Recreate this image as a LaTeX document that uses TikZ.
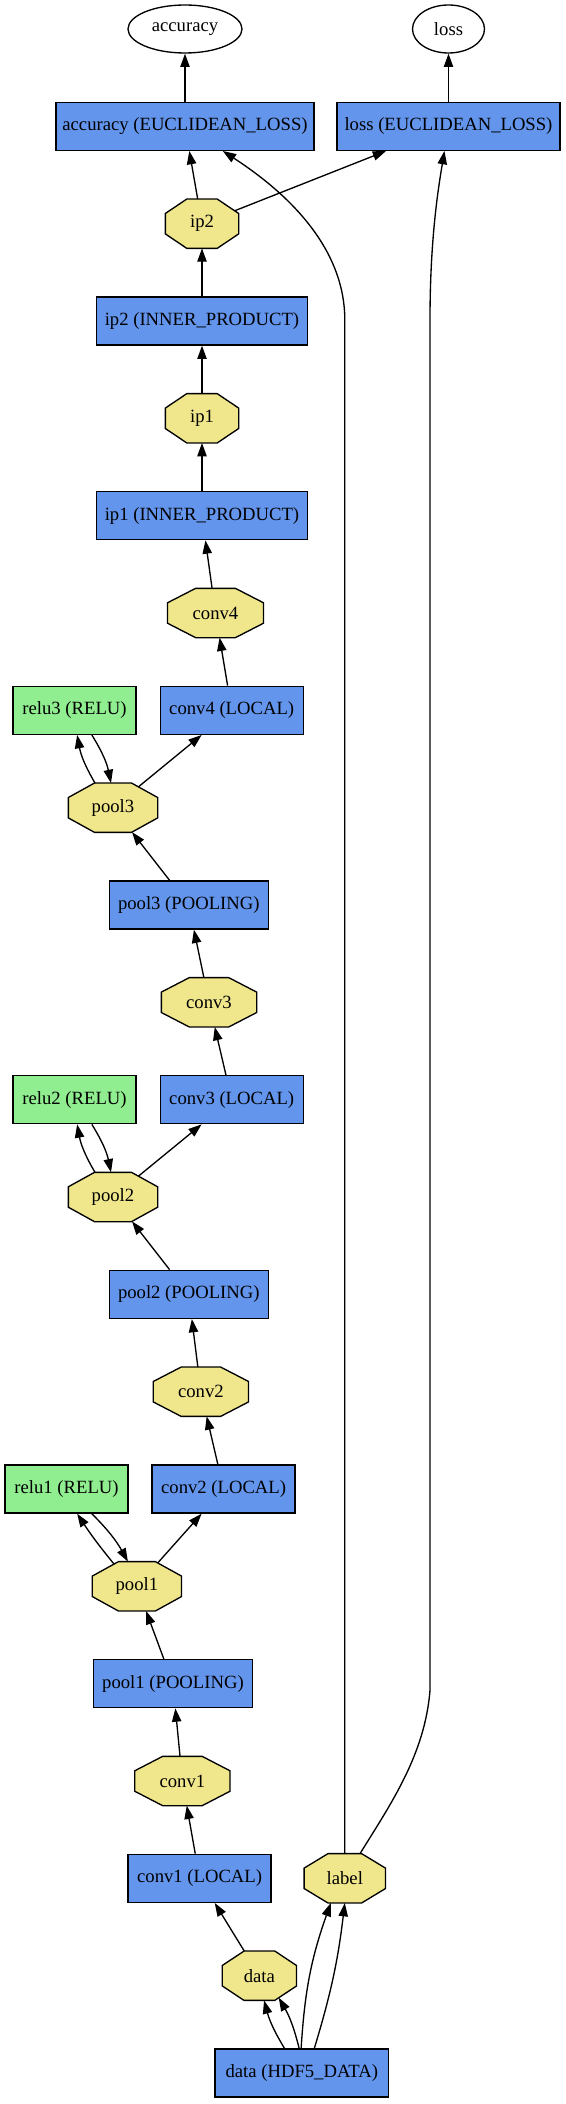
\documentclass[tikz,border=0pt]{standalone}
\usepackage{fontspec}
\setmainfont{Liberation Serif}
\usetikzlibrary{arrows.meta,shapes.geometric}

\definecolor{layerblue}{HTML}{6495ED}
\definecolor{relugreen}{HTML}{90EE90}
\definecolor{blobkhaki}{HTML}{F0E68C}

% stretched octagon, as graphviz draws it
\makeatletter
\pgfdeclareshape{octagonbox}{%
  \inheritsavedanchors[from=rectangle]%
  \inheritanchor[from=rectangle]{center}%
  \inheritanchor[from=rectangle]{north}%
  \inheritanchor[from=rectangle]{south}%
  \inheritanchor[from=rectangle]{east}%
  \inheritanchor[from=rectangle]{west}%
  \inheritanchor[from=rectangle]{north east}%
  \inheritanchor[from=rectangle]{north west}%
  \inheritanchor[from=rectangle]{south east}%
  \inheritanchor[from=rectangle]{south west}%
  \inheritanchor[from=rectangle]{base}%
  \inheritanchor[from=rectangle]{mid}%
  \anchorborder{%
    \edef\oct@dx{\pgf@sys@tonumber\pgf@x}%
    \edef\oct@dy{\pgf@sys@tonumber\pgf@y}%
    \northeast \edef\oct@ex{\pgf@sys@tonumber\pgf@x}\edef\oct@ey{\pgf@sys@tonumber\pgf@y}%
    \southwest \edef\oct@wx{\pgf@sys@tonumber\pgf@x}\edef\oct@wy{\pgf@sys@tonumber\pgf@y}%
    \pgfmathsetmacro\oct@u{abs(\oct@dx)/((\oct@ex-\oct@wx)/2)}%
    \pgfmathsetmacro\oct@v{abs(\oct@dy)/((\oct@ey-\oct@wy)/2)}%
    \pgfmathsetmacro\oct@t{1/max(\oct@u,\oct@v,(\oct@u+\oct@v)/1.41421)}%
    \pgfpoint{(\oct@ex+\oct@wx)/2+\oct@t*\oct@dx}{(\oct@ey+\oct@wy)/2+\oct@t*\oct@dy}%
  }%
  \backgroundpath{%
    \southwest \pgf@xa=\pgf@x \pgf@ya=\pgf@y
    \northeast \pgf@xb=\pgf@x \pgf@yb=\pgf@y
    \pgf@xc=\pgf@xb \advance\pgf@xc by-\pgf@xa
    \pgf@yc=\pgf@yb \advance\pgf@yc by-\pgf@ya
    \pgfutil@tempdima=\pgf@xa \advance\pgfutil@tempdima by.293\pgf@xc
    \pgfutil@tempdimb=\pgf@xb \advance\pgfutil@tempdimb by-.293\pgf@xc
    \edef\oct@l{\the\pgf@xa}\edef\oct@r{\the\pgf@xb}%
    \edef\oct@il{\the\pgfutil@tempdima}\edef\oct@ir{\the\pgfutil@tempdimb}%
    \pgfutil@tempdima=\pgf@ya \advance\pgfutil@tempdima by.293\pgf@yc
    \pgfutil@tempdimb=\pgf@yb \advance\pgfutil@tempdimb by-.293\pgf@yc
    \edef\oct@b{\the\pgf@ya}\edef\oct@t{\the\pgf@yb}%
    \edef\oct@ib{\the\pgfutil@tempdima}\edef\oct@it{\the\pgfutil@tempdimb}%
    \pgfpathmoveto{\pgfqpoint{\oct@il}{\oct@t}}%
    \pgfpathlineto{\pgfqpoint{\oct@ir}{\oct@t}}%
    \pgfpathlineto{\pgfqpoint{\oct@r}{\oct@it}}%
    \pgfpathlineto{\pgfqpoint{\oct@r}{\oct@ib}}%
    \pgfpathlineto{\pgfqpoint{\oct@ir}{\oct@b}}%
    \pgfpathlineto{\pgfqpoint{\oct@il}{\oct@b}}%
    \pgfpathlineto{\pgfqpoint{\oct@l}{\oct@ib}}%
    \pgfpathlineto{\pgfqpoint{\oct@l}{\oct@it}}%
    \pgfpathclose
  }%
}
\makeatother

\tikzset{
  layer/.style={draw, line width=1pt, fill=layerblue, minimum height=36pt, inner sep=0pt},
  relu/.style={layer, fill=relugreen},
  blob/.style={octagonbox, draw, line width=1pt, fill=blobkhaki, minimum height=36pt, inner sep=0pt},
  outp/.style={ellipse, draw, line width=1pt, fill=white, minimum height=36pt, inner sep=0pt},
  edge/.style={line width=1pt, -{Triangle[length=10pt,width=7pt]}},
}

\begin{document}
\begin{tikzpicture}[x=0.75pt, y=-0.75pt, font=\fontsize{14}{17}\selectfont]
                \useasboundingbox (0,0) rectangle (565,2104);
                % outputs
                \node[outp, minimum width=85.5pt] (accuracy) at (185,29) {accuracy};
                \node[outp, minimum width=54pt] (loss) at (448.5,29) {loss};
                \node[layer, minimum width=193.5pt] (accL) at (185,126.3) {accuracy (EUCLIDEAN\_LOSS)};
                \node[layer, minimum width=167.25pt] (lossL) at (448.5,126.3) {loss (EUCLIDEAN\_LOSS)};
                % inner product part
                \node[blob, minimum width=54pt] (ip2) at (202,223.7) {ip2};
                \node[layer, minimum width=158.25pt] (ip2L) at (202,321) {ip2 (INNER\_PRODUCT)};
                \node[blob, minimum width=54pt] (ip1) at (202,418.3) {ip1};
                \node[layer, minimum width=158.25pt] (ip1L) at (202,515.7) {ip1 (INNER\_PRODUCT)};
                % third block
                \node[blob, minimum width=71pt] (conv4) at (215.5,613) {conv4};
                \node[layer, minimum width=107.25pt] (conv4L) at (231.7,710.3) {conv4 (LOCAL)};
                \node[relu, minimum width=92.25pt] (relu3) at (74.5,710.3) {relu3 (RELU)};
                \node[blob, minimum width=66pt] (pool3) at (113,807.7) {pool3};
                \node[layer, minimum width=119.25pt] (pool3L) at (188.8,905) {pool3 (POOLING)};
                % second block
                \node[blob, minimum width=70.5pt] (conv3) at (209,1002.3) {conv3};
                \node[layer, minimum width=107.25pt] (conv3L) at (231.7,1099.7) {conv3 (LOCAL)};
                \node[relu, minimum width=92.25pt] (relu2) at (74.5,1099.7) {relu2 (RELU)};
                \node[blob, minimum width=66pt] (pool2) at (113,1197) {pool2};
                \node[layer, minimum width=119.25pt] (pool2L) at (188.8,1294.3) {pool2 (POOLING)};
                % first block
                \node[blob, minimum width=70.5pt] (conv2) at (200.9,1391.7) {conv2};
                \node[layer, minimum width=107.25pt] (conv2L) at (223.6,1489) {conv2 (LOCAL)};
                \node[relu, minimum width=92.25pt] (relu1) at (66.5,1489) {relu1 (RELU)};
                \node[blob, minimum width=66pt] (pool1) at (136.9,1586.3) {pool1};
                \node[layer, minimum width=119.25pt] (pool1L) at (173,1683.7) {pool1 (POOLING)};
                \node[blob, minimum width=70.5pt] (conv1) at (182.4,1781) {conv1};
                \node[layer, minimum width=107.25pt] (conv1L) at (199.6,1878.3) {conv1 (LOCAL)};
                % input
                \node[blob, minimum width=60pt] (label) at (344.8,1878.3) {label};
                \node[blob, minimum width=54.75pt] (data) at (259.4,1975.7) {data};
                \node[layer, minimum width=130pt] (hdf) at (301.8,2073) {data (HDF5\_DATA)};

                % top
                \draw[edge] (accL) -- (accuracy);
                \draw[edge] (lossL) -- (loss);
                \draw[edge] (ip2) -- (accL);
                \draw[edge] (ip2) -- (lossL);
                \draw[edge] (label) -- (344.8,320) .. controls (344.8,240) and (275,185) .. (accL);
                \draw[edge] (label) .. controls (390,1805) and (425,1755) .. (430,1690)
                    -- (430,320) .. controls (430,240) and (438,190) .. (lossL);
                \draw[edge] (ip2L) -- (ip2);
                \draw[edge] (ip1) -- (ip2L);
                \draw[edge] (ip1L) -- (ip1);
                \draw[edge] (conv4) -- (ip1L);
                \draw[edge] (conv4L) -- (conv4);
                \draw[edge] (pool3) -- (conv4L);
                \draw[edge] ([xshift=-13.5pt]pool3.north) to[bend left=10] ([xshift=2pt]relu3.south);
                \draw[edge] ([xshift=13pt]relu3.south) to[bend left=10] ([xshift=-1.5pt]pool3.north);
                \draw[edge] (pool3L) -- (pool3);
                \draw[edge] (conv3) -- (pool3L);
                \draw[edge] (conv3L) -- (conv3);
                \draw[edge] (pool2) -- (conv3L);
                \draw[edge] ([xshift=-13.5pt]pool2.north) to[bend left=10] ([xshift=2pt]relu2.south);
                \draw[edge] ([xshift=13pt]relu2.south) to[bend left=10] ([xshift=-1.5pt]pool2.north);
                \draw[edge] (pool2L) -- (pool2);
                \draw[edge] (conv2) -- (pool2L);
                \draw[edge] (conv2L) -- (conv2);
                \draw[edge] (pool1) -- (conv2L);
                \draw[edge] ([xshift=-17pt,yshift=-2pt]pool1.north) to[bend left=3] ([xshift=8pt]relu1.south);
                \draw[edge] ([xshift=19pt]relu1.south) to[bend left=8] ([xshift=-6.75pt]pool1.north);
                \draw[edge] (pool1L) -- (pool1);
                \draw[edge] (conv1) -- (pool1L);
                \draw[edge] (conv1L) -- (conv1);
                \draw[edge] (data) -- (conv1L);
                % bottom
                \draw[edge] ([xshift=-13pt]hdf.north) to[bend left=8] ([xshift=3.5pt]data.south);
                \draw[edge] ([xshift=-2pt]hdf.north) to[bend right=8] ([xshift=14.5pt,yshift=2pt]data.south);
                \draw[edge] ([xshift=-0.5pt]hdf.north) to[bend left=8] ([xshift=-10.5pt]label.south);
                \draw[edge] ([xshift=9.4pt]hdf.north) to[bend right=5] (label.south);
\end{tikzpicture}
\end{document}
